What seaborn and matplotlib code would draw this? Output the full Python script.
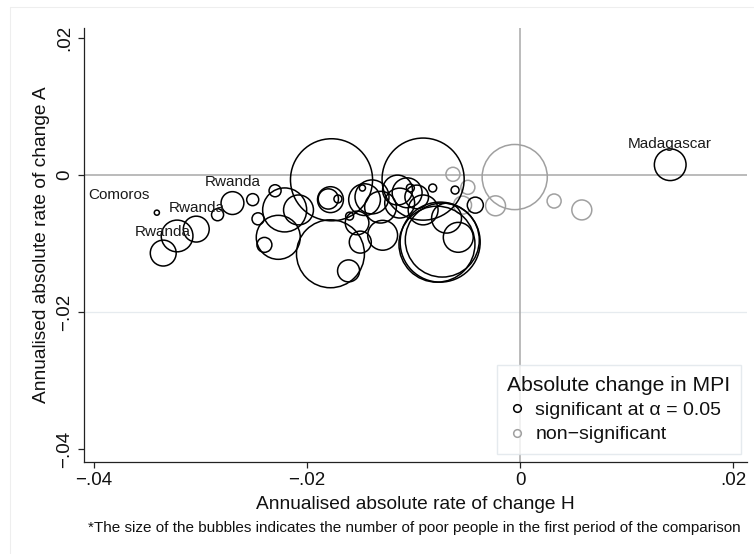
import matplotlib
matplotlib.use("Agg")
import numpy as np
import pandas as pd
import matplotlib.pyplot as plt
from matplotlib.lines import Line2D
import seaborn as sns

# Annualised absolute rate of change in the headcount ratio (H) and intensity (A),
# number of poor people (millions) in the first period, and significance of the MPI change
change_h = [-0.0341, -0.0335, -0.0322, -0.0304, -0.0284, -0.0270, -0.0251, -0.0230,
            -0.0246, -0.0240, -0.0221, -0.0208, -0.0227, -0.0177, -0.0178, -0.0180,
            -0.0171, -0.0178, -0.0161, -0.0148, -0.0146, -0.0160, -0.0153, -0.0150,
            -0.0139, -0.0131, -0.0129, -0.0115, -0.0106, -0.0113, -0.0103, -0.0097,
            -0.0091, -0.0082, -0.0061, -0.0091, -0.0069, -0.0058, -0.0075, -0.0078,
            -0.0073, -0.0042, 0.0141,
            -0.0005, -0.0063, -0.0049, -0.0054, -0.0023, 0.0032, 0.0058]
change_a = [-0.0055, -0.0114, -0.0089, -0.0079, -0.0058, -0.0041, -0.0036, -0.0023,
            -0.0064, -0.0102, -0.0051, -0.0051, -0.0091, -0.0007, -0.0036, -0.0035,
            -0.0035, -0.0115, -0.0140, -0.0019, -0.0036, -0.0060, -0.0070, -0.0098,
            -0.0032, -0.0047, -0.0088, -0.0022, -0.0026, -0.0041, -0.0019, -0.0032,
            -0.0051, -0.0019, -0.0022, -0.0006, -0.0063, -0.0091, -0.0098, -0.0101,
            -0.0095, -0.0044, 0.0015,
            -0.0003, 0.0001, -0.0018, -0.0044, -0.0045, -0.0038, -0.0051]
poor_millions = [0.7, 18, 27, 18, 3.9, 14, 3.9, 3.9,
                 3.9, 6, 52, 24, 52, 181, 18, 11,
                 1.7, 124, 13, 1.0, 27, 1.7, 15, 13,
                 31, 27, 24, 24, 24, 24, 1.7, 15,
                 24, 1.7, 1.7, 181, 24, 24, 172, 155,
                 147, 6.9, 27,
                 114, 5.3, 5.3, 8.7, 10.7, 5.3, 10.7]
significant = [True] * 43 + [False] * 7
country_label = ["Comoros", "Rwanda", "", "Rwanda", "", "Rwanda"] + [""] * 36 + ["Madagascar"] + [""] * 7

x_ticks = [-0.04, -0.02, 0, 0.02]
x_tick_labels = ["\u2212.04", "\u2212.02", "0", ".02"]
y_ticks = [-0.04, -0.02, 0, 0.02]
y_tick_labels = ["\u2212.04", "\u2212.02", "0", ".02"]

legend_title = "Absolute change in MPI"
legend_labels = ["significant at \u03b1 = 0.05", "non\u2212significant"]
note = "*The size of the bubbles indicates the number of poor people in the first period of the comparison"

sns.set_theme(style="white")
plt.rcParams["font.family"] = ["Liberation Sans", "DejaVu Sans"]

df = pd.DataFrame({"h": change_h, "a": change_a, "poor": poor_millions,
                   "sig": significant, "label": country_label})

W, H = 754, 554
fig = plt.figure(figsize=(W / 100, H / 100), dpi=100)
fig.patch.set_facecolor("white")
ax = fig.add_axes([84 / W, 1 - 462 / H, (747 - 84) / W, (462 - 28) / H])
ax.set_facecolor("white")

BLACK = "#000000"
GRAY = "#a0a0a0"
REF = "#a8a8a8"

ax.set_xlim(-0.04094, 0.02131)
ax.set_ylim(-0.0419, 0.02146)

# grid line and reference lines through zero
ax.axhline(-0.02, color="#e6ebef", lw=0.9, zorder=0)
ax.axhline(0, color=REF, lw=1.1, zorder=1)
ax.axvline(0, color=REF, lw=1.1, zorder=1)

# bubble area proportional to the number of poor people
size_norm = (0, 200)
size_range = (0, 3860)
for flag, col in [(False, GRAY), (True, BLACK)]:
    sub = df[df["sig"] == flag]
    sns.scatterplot(data=sub, x="h", y="a", size="poor", sizes=size_range,
                    size_norm=size_norm, facecolor="none", edgecolor=col,
                    linewidth=1.1, legend=False, ax=ax, zorder=3)

for _, row in df[df["label"] != ""].iterrows():
    if row["label"] == "Comoros":
        ax.annotate(row["label"], (row["h"], row["a"]), xytext=(-5, 13),
                    textcoords="offset points", ha="right", va="center",
                    fontsize=11, color="#1a1a1a", zorder=4)
    else:
        ax.annotate(row["label"], (row["h"], row["a"]), xytext=(0, 15),
                    textcoords="offset points", ha="center", va="center",
                    fontsize=11, color="#1a1a1a", zorder=4)

ax.set_xticks(x_ticks)
ax.set_xticklabels(x_tick_labels)
ax.set_yticks(y_ticks)
ax.set_yticklabels(y_tick_labels, rotation=90, va="center")
ax.tick_params(axis="both", direction="out", length=4.5, width=0.9, color="#222222",
               labelsize=13.5, labelcolor="#111111", pad=3, bottom=True, left=True)

ax.set_xlabel("Annualised absolute rate of change H", fontsize=13.8, color="#111111", labelpad=5)
ax.set_ylabel("Annualised absolute rate of change A", fontsize=13.8, color="#111111", labelpad=5)

for side in ["top", "right"]:
    ax.spines[side].set_visible(False)
for side in ["left", "bottom"]:
    ax.spines[side].set_color("#222222")
    ax.spines[side].set_linewidth(0.9)

handles = [Line2D([], [], linestyle="none", marker="o", markersize=5.5,
                  markerfacecolor="none", markeredgecolor=c, markeredgewidth=1.1)
           for c in (BLACK, GRAY)]
leg = ax.legend(handles, legend_labels, title=legend_title, loc="lower right",
                bbox_to_anchor=(0.991, 0.018), borderaxespad=0, frameon=True,
                fancybox=False, fontsize=14, title_fontsize=15.2,
                handletextpad=0.45, labelspacing=0.35, borderpad=0.55,
                handlelength=1.0, alignment="left")
leg.get_frame().set_edgecolor("#dfe5ea")
leg.get_frame().set_linewidth(1.0)
leg.get_frame().set_facecolor("white")
for t in leg.get_texts():
    t.set_color("#111111")
leg.get_title().set_color("#111111")

fig.text(414 / W, 1 - 528 / H, note, ha="center", va="center", fontsize=11.0, color="#111111")

# faint outline of the graph region
fig.add_artist(Line2D([10 / W, 1], [1 - 7 / H, 1 - 7 / H], color="#eeeeee", lw=0.8,
                      transform=fig.transFigure))
fig.add_artist(Line2D([10 / W, 10 / W], [0, 1 - 7 / H], color="#eeeeee", lw=0.8,
                      transform=fig.transFigure))

fig.savefig("out.png", dpi=100)
